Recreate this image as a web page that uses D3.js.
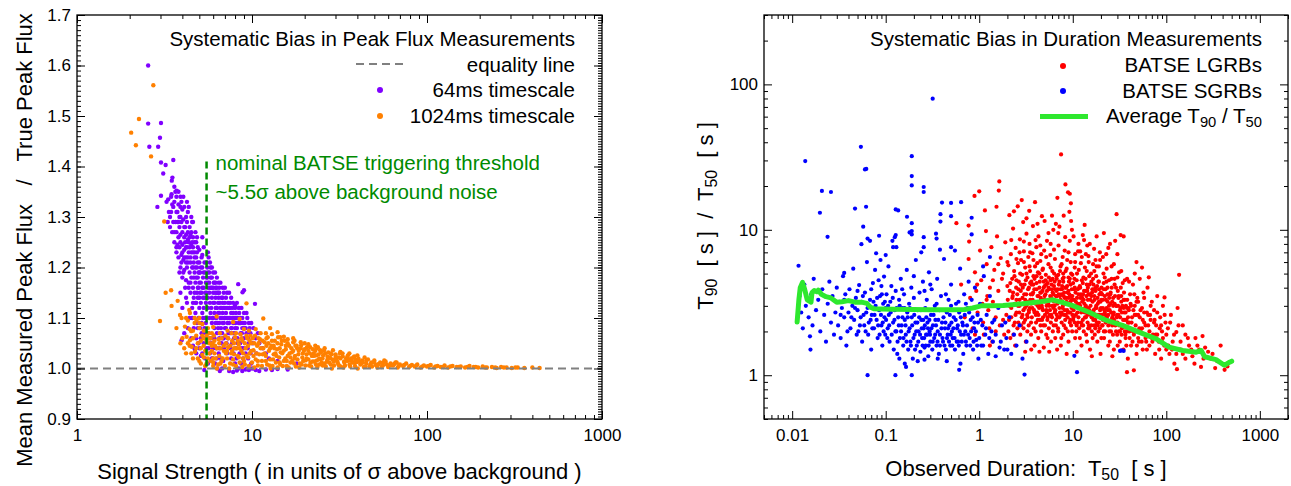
<!DOCTYPE html>
<html>
<head>
<meta charset="utf-8">
<script src="https://cdn.jsdelivr.net/npm/d3@7"></script>
<style>
body { margin: 0; background: #fff; }
svg { display: block; }
</style>
</head>
<body>
<div id="chart"></div>
<script>
'use strict';

// ---- data ----
var fluxTicksX = [1, 10, 100, 1000];
var fluxTicksY = [0.9, 1.0, 1.1, 1.2, 1.3, 1.4, 1.5, 1.6, 1.7];
var durTicksX = [0.01, 0.1, 1, 10, 100, 1000];
var durTicksY = [1, 10, 100];
var triggerThreshold = 5.5;
var equalityValue = 1.0;

// [signal strength, mean measured / true peak flux]
var flux64ms = [
	[2.55,1.60],[2.55,1.485],[3.02,1.486],[2.59,1.439],[2.91,1.439],[2.98,1.457],[3.02,1.408],[3.21,1.403],[3.11,1.386],
	[3.55,1.413],[3.51,1.378],[3.48,1.372],[3.71,1.352],[3.47,1.345],[3.02,1.342],[2.88,1.32],[3.32,1.335],[3.5,1.325],
	[3.6,1.33],[3.7,1.31],[3.8,1.325],[3.9,1.30],[3.95,1.33],[4.0,1.315],[4.1,1.32],[4.2,1.30],[4.3,1.31],[3.75,1.29],
	[3.85,1.28],[3.95,1.29],[4.05,1.295],[4.15,1.28],[4.25,1.29],[4.4,1.28],[3.7,1.27],[3.8,1.26],[3.9,1.265],[4.0,1.27],
	[4.1,1.26],[4.2,1.265],[4.3,1.255],[4.45,1.265],[3.75,1.245],[3.85,1.24],[4.0,1.245],[4.1,1.235],[4.25,1.24],[4.35,1.23],
	[4.5,1.245],[3.8,1.22],[3.95,1.225],[4.05,1.215],[4.2,1.22],[4.3,1.21],[4.45,1.22],[3.9,1.20],[4.1,1.195],[4.25,1.2],
	[4.4,1.19],[4.55,1.2],[4.0,1.18],[4.2,1.175],[4.35,1.17],[4.5,1.18],[4.6,1.23],[4.65,1.21],[4.7,1.25],[4.6,1.26],
	[4.55,1.29],[4.7,1.19],[3.9,1.15],[4.0,1.12],[4.2,1.14],[4.4,1.10],[4.1,1.07],[4.3,1.08],[4.5,1.06],[4.6,1.045],
	[4.7,1.04],[4.8,1.03],[3.96,1.056],[4.72,1.037],
	[4.75,1.17],[4.8,1.22],[4.85,1.2],[4.9,1.18],[4.95,1.16],[5.0,1.21],[5.05,1.19],[5.1,1.17],[5.15,1.15],[5.2,1.2],
	[5.25,1.18],[5.3,1.16],[5.35,1.14],[5.4,1.19],[5.45,1.17],[4.7,1.15],[4.8,1.13],[4.9,1.14],[5.0,1.12],[5.1,1.13],
	[5.2,1.11],[5.3,1.12],[5.4,1.10],[5.5,1.15],[4.75,1.11],[4.85,1.09],[4.95,1.10],[5.05,1.08],[5.15,1.09],[5.25,1.07],
	[5.35,1.08],[5.45,1.06],[5.0,1.235],[5.2,1.225],[4.9,1.24],[4.6,1.16],[4.65,1.14],[4.55,1.12],[5.1,1.06],[5.3,1.05],
	[5.5,1.04],[4.95,1.05],[5.2,1.03],[5.4,1.02],[5.34,0.997],[5.6,1.01],[5.1,1.025],
	[5.6,1.17],[5.7,1.15],[5.8,1.16],[5.9,1.14],[6.0,1.15],[6.1,1.13],[6.2,1.14],[6.3,1.12],[6.4,1.13],[6.5,1.11],
	[6.6,1.12],[6.7,1.10],[6.8,1.11],[6.9,1.09],[7.0,1.10],[5.6,1.12],[5.7,1.10],[5.8,1.11],[5.9,1.09],[6.0,1.10],
	[6.1,1.08],[6.2,1.09],[6.3,1.07],[6.4,1.08],[6.5,1.06],[6.6,1.07],[6.7,1.05],[6.8,1.06],[6.9,1.04],[5.65,1.07],
	[5.85,1.05],[6.05,1.06],[6.25,1.04],[6.45,1.03],[6.65,1.02],[6.85,1.015],[5.75,1.03],[5.95,1.02],[6.15,1.01],[6.35,1.0],
	[6.55,0.995],[6.75,1.0],[6.2,1.17],[6.5,1.16],[6.8,1.14],[7.0,1.13],[6.28,1.12],[5.55,1.18],
	[7.2,1.12],[7.4,1.10],[7.6,1.11],[7.8,1.09],[8.0,1.10],[8.2,1.08],[8.4,1.09],[8.6,1.07],[8.8,1.08],[9.0,1.06],
	[9.3,1.07],[9.6,1.05],[7.1,1.08],[7.3,1.06],[7.5,1.07],[7.7,1.05],[7.9,1.06],[8.1,1.04],[8.3,1.05],[8.5,1.03],
	[8.7,1.04],[8.9,1.02],[9.2,1.03],[9.5,1.02],[9.8,1.03],[7.2,1.03],[7.6,1.02],[8.0,1.01],[8.4,1.0],[8.8,0.995],
	[9.2,0.998],[7.4,0.995],[7.8,0.993],[8.2,0.996],[9.6,0.997],[10.0,1.0],[8.34,1.167],[8.83,1.151],[9.0,1.155],[10.4,1.128],
	[7.5,1.13],[8.0,1.125],[9.3,1.11],[9.9,1.09],[10.2,1.08],[10.5,1.06],[11,1.05],[11.5,1.04],[12,1.03],[10.8,1.07],
	[10.5,0.997],[11,0.995],[12,0.998],[13,0.997],[14,0.999],[16,0.998],[12.5,1.02],[14,1.015],[18,1.01],
	[3.65,1.29],[3.75,1.31],[3.85,1.3],[3.9,1.25],[4.0,1.23],[4.1,1.28],[4.15,1.25],[4.2,1.24],[4.3,1.27],[4.35,1.25],
	[4.4,1.24],[4.45,1.21],[4.5,1.23],[4.55,1.25],[4.6,1.2],[4.65,1.18],[4.7,1.22],[4.75,1.2],[4.8,1.25],[4.85,1.23],
	[4.9,1.21],[4.95,1.19],[5.0,1.17],[5.05,1.15],[5.1,1.2],[5.15,1.22],[5.2,1.16],[5.25,1.14],[5.3,1.19],[5.35,1.21],
	[5.4,1.15],[5.45,1.13],[5.5,1.18],[5.55,1.2],[5.6,1.14],[5.65,1.16],[5.7,1.19],[5.75,1.13],[5.8,1.18],[5.85,1.12],
	[5.9,1.16],[5.95,1.1],[6.0,1.13],[6.05,1.17],[6.1,1.11],[6.15,1.15],[6.2,1.12],[6.25,1.1],[6.3,1.15],[6.35,1.09],
	[6.4,1.11],[6.45,1.14],[6.5,1.09],[6.55,1.13],[6.6,1.1],[6.65,1.08],[6.7,1.12],[6.75,1.07],[6.8,1.09],[6.85,1.12],
	[6.9,1.06],[6.95,1.1],[7.0,1.08],[7.1,1.11],[7.15,1.05],[7.25,1.09],[7.35,1.07],[7.45,1.12],[7.55,1.04],[7.65,1.08],
	[7.75,1.1],[7.85,1.03],[7.95,1.07],[8.05,1.09],[8.15,1.02],[8.25,1.06],[8.45,1.11],[8.55,1.05],[8.65,1.01],[8.75,1.07],
	[8.95,1.04],[9.1,1.09],[9.4,1.0],[9.45,1.04],[9.7,1.08],[9.9,1.01],[10.1,1.05],[10.3,1.0],[10.6,1.03],[4.45,1.15],
	[4.55,1.1],[4.65,1.08],[4.8,1.06],[4.9,1.08],[5.0,1.04],[5.15,1.07],[5.25,1.1],[5.45,1.09],[5.55,1.07],[5.65,1.04],
	[5.8,1.06],[5.9,1.02],[6.0,1.04],[6.1,1.06],[6.3,1.02],[6.5,1.04],[4.25,1.13],[4.35,1.16],[4.15,1.16],[4.05,1.19],
	[3.95,1.21],[3.85,1.19],[3.7,1.23],[3.6,1.27],[3.55,1.29],[3.45,1.31],[3.4,1.3],[3.3,1.29],[3.65,1.35],[4.25,1.33],
	[4.35,1.32],[4.5,1.3],[4.6,1.29],[4.75,1.27],[4.85,1.26],[5.3,1.24],[5.6,1.23],[5.9,1.2],[6.3,1.18],[6.8,1.16],
	[7.4,1.15],[7.8,1.13],[5.2,1.26],
	[6.5,1.15],[6.6,1.17],[6.7,1.14],[6.8,1.13],[6.9,1.15],[7.0,1.16],[7.1,1.14],[7.2,1.15],[7.3,1.13],[7.4,1.12],
	[7.5,1.1],[7.6,1.14],[7.7,1.12],[7.8,1.11],[7.9,1.1],[8.0,1.12],[8.1,1.11],[8.2,1.13],[8.3,1.1],[8.4,1.12],
	[8.5,1.09],[8.6,1.1],[8.7,1.12],[8.8,1.1],[8.9,1.09],[9.0,1.11],[9.2,1.08],[9.4,1.1],[9.6,1.09],[9.8,1.07],
	[7.0,1.12],[7.2,1.1],[7.4,1.09],[7.6,1.08],[7.8,1.07],[8.0,1.08],[8.2,1.1],[8.6,1.09],[9.0,1.08],[9.5,1.06],
	[5.5,1.21],[5.6,1.19],[5.7,1.17],[5.8,1.2],[5.9,1.18],[6.0,1.19],[6.1,1.17],[6.2,1.16],[6.3,1.16],[6.4,1.15],
	[6.45,1.17],[6.0,1.16],[5.75,1.21],[6.15,1.19],[5.65,1.22],
	[3.25,1.33],[3.35,1.31],[3.45,1.34],[3.55,1.32],[3.6,1.36],[3.7,1.34],[3.8,1.35],[3.9,1.34],[3.4,1.28],[3.5,1.27],
	[3.6,1.25],[3.7,1.24],[3.8,1.29],[3.9,1.32],[4.05,1.34],
	[4.1,1.22],[4.2,1.21],[4.3,1.22],[4.4,1.26],[4.5,1.27],[4.6,1.24],[4.7,1.23],[4.8,1.18],[4.9,1.16],[5.0,1.19],
	[5.0,1.14],[4.85,1.15],[4.45,1.17],[4.6,1.13],[4.75,1.13]
];

var flux1024ms = [
	[2.73,1.561],[2.26,1.494],[2.04,1.467],[2.17,1.442],[2.65,1.42],[3.15,1.291],[3.21,1.15],[3.45,1.155],[3.76,1.134],
	[3.47,1.124],[2.98,1.094],[3.88,1.106],[3.96,1.10],[4.14,1.083],[4.4,1.078],[4.5,1.074],[4.38,1.116],[4.42,1.11],
	[4.23,1.063],[4.42,1.056],[4.52,1.043],[4.72,1.033],[5.2,1.027],[5.3,1.022],[4.82,1.096],[5.0,1.09],[5.2,1.088],
	[5.0,1.08],[5.6,1.08],[6.0,1.082],[6.28,1.103],[7.8,1.092],[8.5,1.098],[9.3,1.129],[11.6,1.099],[12.7,1.08],
	[14,1.072],[15.2,1.063],[17.2,1.06],[20,1.05],[23.4,1.04],[27.9,1.021],
	[4.6,1.06],[4.9,1.05],[5.1,1.04],[5.4,1.035],[5.7,1.03],[5.9,1.045],[5.5,1.055],[4.8,1.065],[5.2,1.065],[5.8,1.06],
	[4.4,1.045],[4.6,1.02],[5.0,1.015],[5.5,1.01],[6.0,1.005],[4.7,1.09],[4.3,1.095],[5.3,1.075],[5.65,1.07],[5.9,1.07],
	[4.0,1.06],[4.1,1.04],[4.2,1.03],[4.3,1.05],[4.5,1.03],[4.6,1.075],[4.8,1.04],[4.9,1.02],[5.1,1.01],[5.3,1.06],
	[5.4,1.005],[5.6,1.02],[5.7,1.06],[5.8,1.015],[3.7,1.08],[3.9,1.05],[4.2,1.1],[4.7,1.1],[5.0,1.1],
	[6.0,1.012],[6.1,1.03],[5.95,1.05],[6.05,1.065],[6.2,1.02],[6.15,1.045],
	[6.4,1.008],[6.5,1.025],[6.6,1.04],[6.45,1.058],[6.55,1.07],[6.7,1.015],
	[6.9,1.035],[7.0,1.005],[7.1,1.05],[7.2,1.02],[7.05,1.065],[7.25,1.075],[7.3,1.042],
	[7.5,1.01],[7.6,1.03],[7.7,1.055],[7.8,1.018],[7.65,1.07],[7.9,1.04],[8.0,1.062],
	[8.1,1.005],[8.3,1.025],[8.4,1.048],[8.5,1.012],[8.6,1.068],[8.7,1.035],[8.8,1.055],[8.9,1.02],
	[9.1,1.008],[9.2,1.04],[9.4,1.06],[9.5,1.022],[9.6,1.075],[9.7,1.03],[9.9,1.05],[10.0,1.012],
	[10.2,1.036],[10.4,1.065],[10.5,1.018],[10.7,1.045],[10.8,1.006],[11.0,1.028],[11.1,1.058],[11.2,1.07],
	[11.4,1.015],[11.6,1.04],[11.8,1.052],[12.0,1.025],[12.2,1.008],[12.3,1.062],[12.5,1.035],[12.7,1.018],
	[12.9,1.045],[13.1,1.005],[13.3,1.028],[13.5,1.055],[13.7,1.012],[13.9,1.038],[14.1,1.062],[14.3,1.022],
	[14.5,1.008],[14.7,1.048],[14.9,1.03],[15.2,1.015],[15.4,1.055],[15.6,1.038],[15.8,1.005],[16.0,1.025],
	[16.3,1.045],[16.6,1.012],[16.9,1.032],[17.2,1.052],[17.5,1.02],[17.8,1.004],[18.1,1.04],[18.4,1.028],
	[18.8,1.01],[19.1,1.046],[19.4,1.022],[19.8,1.035],[20.2,1.006],[20.6,1.042],[21.0,1.018],[21.4,1.03],
	[21.8,1.004],[22.3,1.038],[22.8,1.014],[23.3,1.026],[23.8,1.042],[24.3,1.008],[24.8,1.032],[25.3,1.02],
	[25.8,1.036],[26.4,1.004],[27.0,1.024],[27.6,1.012],[28.2,1.03],[28.8,1.018],[29.4,1.006],[30.0,1.028],
	[30.7,1.014],[31.4,1.022],[32.1,1.004],[32.9,1.03],[33.7,1.012],[34.5,1.02],[35.3,1.026],[36.1,1.008],
	[37.0,1.016],[37.9,1.022],[38.8,1.005],[39.7,1.013],[40.6,1.02],[41.6,1.008],[42.6,1.016],[43.6,1.003],
	[6.3,1.0],[6.8,1.02],[7.4,1.0],[7.9,1.028],[8.2,1.04],[8.8,1.003],[9.3,1.025],[9.8,1.065],[10.3,1.002],[10.9,1.05],
	[11.5,1.028],[12.1,1.045],[12.8,1.0],[13.4,1.04],[14.0,1.002],[14.6,1.032],[15.5,1.02],[16.2,1.002],[17.0,1.015],
	[17.7,1.045],[18.6,1.002],[19.6,1.015],[20.5,1.028],[21.6,1.012],[22.6,1.025],[23.6,1.002],[24.6,1.018],[26.0,1.01],
	[27.3,1.032],[28.6,1.0],[30.3,1.02],[31.8,1.03],[33.3,1.002],[35.0,1.015],[36.8,1.02],[38.4,1.012],[40.2,1.0],[42.0,1.01],
	[9.0,1.078],[10.5,1.078],[12.0,1.07],[13.0,1.068],[14.5,1.062],[16.0,1.058],[17.5,1.055],[19.0,1.052],[21.0,1.048],
	[23.0,1.045],[26.0,1.04],[29.0,1.036],[32.0,1.033],[36.0,1.03],[40.0,1.026],[44.0,1.022],
	[5.1,1.055],[5.3,1.045],[5.5,1.065],[5.7,1.05],[5.9,1.035],[6.1,1.055],[6.3,1.04],[6.5,1.05],[6.7,1.06],[6.9,1.045],
	[7.1,1.03],[7.3,1.06],[7.5,1.045],[7.7,1.035],[7.9,1.05],[8.1,1.07],[8.3,1.055],[8.5,1.04],[8.7,1.06],[8.9,1.03],
	[9.1,1.05],[9.3,1.065],[9.5,1.045],[9.7,1.055],[9.9,1.035],[10.1,1.06],[10.3,1.05],[10.6,1.03],[10.9,1.06],[11.2,1.04],
	[11.5,1.055],[11.8,1.03],[12.1,1.06],[12.4,1.05],[12.7,1.04],[13.0,1.055],[13.3,1.045],[13.6,1.03],[14.0,1.05],[14.4,1.04],
	[14.8,1.055],[15.2,1.035],[15.6,1.045],[16.0,1.05],[16.4,1.03],[16.8,1.04],[17.2,1.035],[17.6,1.025],[18.0,1.045],[18.5,1.035],
	[19.0,1.04],[19.5,1.03],[20.0,1.038],[20.5,1.02],[21.0,1.035],[21.5,1.042],[22.0,1.025],[22.5,1.03],[23.0,1.035],[23.5,1.016],
	[24.0,1.028],[24.5,1.036],[25.0,1.012],[25.5,1.026],[26.2,1.03],[27.0,1.018],[27.8,1.022],[28.5,1.028],[29.3,1.014],[30.1,1.024],
	[31.0,1.01],[32.0,1.02],[33.0,1.024],[34.0,1.006],[35.0,1.022],[36.0,1.016],[37.5,1.012],[39.0,1.018],[41.0,1.014],[43.0,1.012],
	[45.0,1.016],[47.5,1.008],[50.0,1.012],[53.0,1.009],[56.0,1.011],[59.0,1.008],[62.0,1.006],[65.0,1.009],[69.0,1.005],[74.0,1.007],
	[80.0,1.005],[87.0,1.006],[94.0,1.004],[102,1.005],[112,1.004],[124,1.003],[136,1.004],[152,1.003],[170,1.003],[190,1.003],
	[215,1.002],[245,1.002],[275,1.002],[320,1.002],[6.0,1.02],[6.6,1.01],[7.2,1.035],[7.8,1.008],[8.4,1.022],[9.0,1.015],
	[9.6,1.005],[10.2,1.025],[10.8,1.015],[11.4,1.005],[12.0,1.015],[12.6,1.006],[13.2,1.018],[13.8,1.025],[14.4,1.012],[15.0,1.005],
	[15.8,1.015],[16.6,1.022],[17.4,1.01],[18.2,1.018],[19.2,1.008],[20.2,1.016],[21.2,1.006],[22.2,1.014],[23.2,1.008],[24.2,1.02],
	[25.4,1.006],[26.8,1.014],[28.2,1.008],[29.8,1.018],[31.4,1.006],[33.6,1.014],[36.4,1.004],[38.4,1.024],[44.5,1.004],[48.5,1.004],
	[55,1.003],[57,1.016],[67,1.012],
	[45,1.01],[46,1.018],[47,1.004],[48,1.012],[50,1.016],[51,1.007],[52,1.002],[54,1.012],[56,1.006],[58,1.014],
	[60,1.003],[62,1.01],[64,1.006],[66,1.012],[68,1.002],[70,1.008],[73,1.005],[76,1.01],[79,1.003],[82,1.007],
	[85,1.004],[88,1.008],[92,1.002],[96,1.006],[100,1.004],[105,1.007],[110,1.002],[115,1.005],[120,1.003],[126,1.006],
	[132,1.002],[140,1.005],[148,1.003],[156,1.004],[165,1.002],[175,1.005],[185,1.003],[196,1.002],[208,1.004],[220,1.002],
	[235,1.003],[250,1.001],[265,1.003],[285,1.002],[305,1.001],[330,1.002],[360,1.001],[400,1.002],[440,1.001]
];

// [observed T50 (s), T90 / T50]
var lgrbs = [
	[0.57,11.1],[0.64,4.2],[0.7,2.5],[0.77,10.7],[0.77,6.3],[0.78,8.3],[0.8,3.4],[0.85,2.1],[0.89,17.1],[0.9,5.1],
	[0.93,3.8],[0.96,2.7],[1.0,18.4],[1.02,7.2],[1.05,4.5],[1.08,3.1],[1.1,2.3],[1.12,1.9],[1.15,13.6],[1.18,9.8],
	[1.2,5.8],[1.22,3.5],[1.25,2.8],[1.28,2.1],[1.3,4.0],[1.35,7.6],[1.38,1.7],[1.4,3.2],[1.45,5.3],[1.5,2.5],
	[1.53,14.4],[1.55,9.0],[1.6,3.8],[1.62,18.6],[1.64,21.5],[1.66,2.2],[1.7,6.4],[1.75,4.6],[1.8,3.0],[1.85,1.9],
	[1.9,8.2],[1.95,2.6],
	[2.0,4.1],[2.02,3.3],[2.05,5.7],[2.08,2.4],[2.1,12.6],[2.12,3.8],[2.15,1.8],[2.18,6.8],[2.2,2.9],[2.25,4.6],
	[2.28,3.5],[2.3,10.2],[2.33,2.2],[2.36,5.2],[2.4,3.1],[2.42,1.6],[2.45,7.5],[2.48,4.0],[2.5,2.7],[2.55,3.6],
	[2.58,14.5],[2.6,5.9],[2.62,2.3],[2.65,4.4],[2.7,3.0],[2.72,8.6],[2.75,1.9],[2.78,3.8],[2.8,6.2],[2.85,2.5],
	[2.88,4.9],[2.9,3.4],[2.95,11.3],[2.98,2.1],[3.0,7.1],[3.05,4.2],[3.08,2.9],[3.1,5.5],[3.15,1.7],[3.18,3.6],
	[3.2,9.4],[2.35,13.4],[2.85,16],[3.1,1.45],
	[3.25,2.6],[3.28,4.7],[3.3,3.2],[3.35,6.5],[3.38,2.2],[3.4,4.0],[3.45,8.0],[3.48,2.9],[3.5,5.2],[3.55,3.6],
	[3.58,1.9],[3.6,4.4],[3.65,2.5],[3.7,6.9],[3.72,3.3],[3.75,10.6],[3.8,4.8],[3.85,2.8],[3.88,3.9],[3.9,1.6],
	[3.95,5.6],[4.0,3.1],[4.05,2.3],[4.08,7.6],[4.1,4.3],[4.15,2.7],[4.2,3.5],[4.25,5.1],[4.28,1.8],[4.3,9.0],
	[4.35,3.0],[4.4,4.0],[4.45,2.4],[4.5,6.1],[4.55,3.4],[4.6,2.0],[4.62,4.7],[4.68,12.4],[4.7,2.9],[4.75,3.8],
	[4.8,5.4],[4.85,2.2],[4.9,3.3],[4.95,7.2],[5.0,4.1],[3.42,13.5],[3.95,15.5],[4.4,1.45],[3.6,1.5],[4.9,1.55],
	[3.2,12.0],[4.2,11.0],
	[5.05,2.6],[5.1,3.6],[5.15,4.9],[5.2,1.9],[5.25,3.0],[5.3,8.4],[5.35,2.4],[5.4,4.3],[5.45,3.3],[5.5,5.8],
	[5.55,2.1],[5.6,3.9],[5.7,2.8],[5.75,6.7],[5.8,4.5],[5.85,1.7],[5.9,3.4],[6.0,2.5],[6.05,5.2],[6.1,3.7],
	[6.2,10.0],[6.25,2.2],[6.3,4.1],[6.4,3.0],[6.45,6.3],[6.5,1.8],[6.6,3.5],[6.7,4.8],[6.75,2.6],[6.85,16.6],
	[6.9,3.9],[7.0,2.0],[7.05,7.8],[7.1,3.2],[7.2,4.4],[7.3,2.7],[7.4,5.6],[7.45,1.6],[7.5,33],[7.55,3.6],
	[7.6,2.3],[7.7,4.1],[7.8,6.5],[7.85,3.0],[7.9,1.9],[8.0,4.7],[8.1,2.6],[8.2,3.4],[8.3,8.9],[8.35,20.5],
	[8.4,2.1],[8.5,4.0],[8.6,5.4],[8.7,2.8],[8.8,3.7],[8.9,18.1],[9.0,1.7],[9.1,4.4],[9.2,13.3],[9.25,3.1],
	[9.3,17.7],[9.4,2.4],[9.5,6.0],[9.55,15.2],[9.6,11.5],[9.7,3.5],[9.8,10.0],[9.85,2.0],[9.9,4.9],[10.0,3.0],
	[5.6,1.45],[6.8,1.5],[8.6,1.4],[5.0,11.5],[6.0,12.5],[7.0,9.5],
	[10.2,2.5],[10.4,3.9],[10.5,5.5],[10.6,1.8],[10.8,3.2],[11.0,4.5],[11.2,2.7],[11.4,7.1],[11.5,3.6],[11.7,2.1],
	[11.9,4.1],[12.0,3.0],[12.2,5.9],[12.4,1.6],[12.6,3.4],[12.8,2.4],[13.0,4.7],[13.2,8.5],[13.4,10.8],[13.5,2.9],
	[13.7,3.8],[13.9,1.9],[14.1,5.2],[14.3,2.6],[14.5,3.3],[14.7,6.6],[14.9,2.2],[15.1,4.2],[15.3,1.5],[15.5,3.0],
	[15.7,5.0],[15.9,2.5],[16.1,3.7],[16.3,1.8],[16.5,4.6],[16.7,2.8],[16.9,7.4],[17.1,3.3],[17.4,2.1],[17.6,4.0],
	[17.8,2.6],[18.0,5.6],[18.3,1.7],[18.5,3.1],[18.8,4.4],[19.0,2.3],[19.3,3.6],[19.6,6.2],[19.8,1.4],[20.0,2.9],
	[11.0,1.45],[12.8,9.2],[15.2,8.0],[18.0,9.0],[10.6,6.8],[16.0,1.35],
	[20.3,4.0],[20.6,2.2],[21.0,3.3],[21.3,5.0],[21.6,1.8],[22.0,2.7],[22.4,3.9],[22.8,6.8],[23.2,2.4],[23.6,3.2],
	[24.0,1.6],[24.4,4.5],[24.8,2.8],[25.2,3.6],[25.6,2.0],[26.0,5.6],[26.5,2.5],[27.0,3.4],[27.5,1.5],[28.0,4.2],
	[28.4,8.4],[28.7,2.3],[29.2,3.0],[29.4,12.8],[29.8,1.9],[30.3,3.8],[30.8,2.6],[31.3,5.1],[31.8,1.7],[32.4,2.9],
	[32.5,9.2],[33.0,3.5],[33.6,2.1],[34.2,4.3],[34.8,1.5],[35.0,9.0],[35.4,2.7],[36.0,3.3],[36.7,1.8],[37.4,2.4],
	[38.1,4.6],[38.8,1.3],[39.5,2.9],[40.2,2.0],[24.0,7.5],[26.5,1.35],[21.5,9.5],[30,6.8],[38,1.05],[45,1.08],
	[41,3.6],[42,1.6],[43,2.5],[44,4.2],[45,1.9],[46,3.0],[47,2.2],[48,1.4],[49,3.4],[50,2.6],
	[51,1.7],[52,4.6],[53,2.0],[55,2.9],[56,1.5],[57,3.7],[58,2.3],[60,1.8],[62,2.7],[63,4.0],
	[65,4.71],[66,1.6],[68,2.4],[70,3.2],[72,1.9],[74,2.8],[76,1.4],[78,2.2],[80,3.5],[83,1.7],
	[86,2.5],[88,1.3],[90,2.0],[92,3.0],[95,1.6],[95.7,3.43],[98,2.3],[100,1.5],[55,5.5],[48,6.0],
	[104,2.1],[108,1.4],[112,2.6],[117,1.7],[122,1.2],[128,1.98],[132,2.9],[137,4.9],[142,1.5],[150,2.2],
	[160,1.3],[170,1.8],[185,1.5],[200,1.2],[215,1.6],[235,1.14],[244,1.86],[250,1.3],[280,1.45],[312,1.4],
	[333,1.12],[381,1.6],[420,1.09],[450,1.15],[130,1.1],
	[2.05,2.0],[2.1,3.0],[2.15,4.3],[2.2,2.5],[2.26,3.4],[2.32,1.9],[2.38,4.8],[2.44,2.6],[2.5,3.3],[2.56,2.1],
	[2.63,3.9],[2.68,2.7],[2.74,5.0],[2.8,2.2],[2.86,3.1],[2.92,4.0],[2.97,2.8],[3.03,3.6],[3.09,2.4],[3.15,4.5],
	[3.21,3.0],[3.27,2.0],[3.33,3.9],[3.39,2.7],[3.45,5.6],[3.52,3.3],[3.58,2.3],[3.64,4.2],[3.7,2.9],[3.77,3.7],
	[3.83,2.1],[3.9,4.6],[3.96,3.2],[4.03,2.6],[4.1,3.9],[4.17,5.9],[4.23,2.4],[4.3,3.5],[4.37,2.9],[4.44,4.4],
	[4.52,2.2],[4.59,3.7],[4.66,3.0],[4.74,5.3],[4.81,2.5],[4.89,4.0],[4.97,3.3],[5.05,2.2],[5.13,4.5],[5.21,2.8],
	[5.3,3.8],[5.38,1.8],[5.47,3.1],[5.56,4.7],[5.65,2.6],[5.74,3.5],[5.83,2.3],[5.93,4.2],[6.02,3.0],[6.12,2.0],
	[6.22,3.6],[6.32,5.0],[6.42,2.7],[6.52,3.9],[6.63,2.4],[6.74,4.6],[6.85,3.1],[6.96,2.1],[7.07,3.6],[7.18,2.5],
	[7.3,5.2],[7.42,3.3],[7.54,1.8],[7.66,3.9],[7.78,2.9],[7.91,4.4],[8.04,2.2],[8.17,3.1],[8.3,4.0],[8.44,2.6],
	[8.58,3.4],[8.72,6.2],[8.86,2.0],[9.0,3.8],[9.15,2.7],[9.3,4.6],[9.45,3.2],[9.6,2.2],[9.76,3.9],[9.92,2.6],
	[10.1,4.3],[10.3,3.3],[10.5,2.3],[10.7,3.7],[10.9,2.0],[11.1,5.0],[11.3,3.1],[11.5,2.5],[11.7,4.0],[11.9,1.8],
	[12.1,3.4],[12.3,2.3],[12.5,4.5],[12.7,2.8],[12.9,3.6],[13.1,2.0],[13.3,3.1],[13.5,5.5],[13.8,2.5],[14.0,3.5],
	[14.2,1.7],[14.5,4.0],[14.7,2.9],[15.0,2.1],[15.2,3.6],[15.5,2.6],[15.8,4.4],[16.0,2.0],[16.3,3.2],[16.6,2.4],
	[16.9,3.9],[17.2,1.9],[17.5,2.9],[17.8,4.8],[18.1,2.3],[18.4,3.4],[18.8,2.0],[19.1,3.9],[19.4,2.6],[19.8,3.2],
	[20.2,1.8],[20.6,3.6],[21.0,2.4],[21.4,4.3],[21.8,2.8],[22.2,2.0],[22.6,3.3],[23.1,2.5],[23.5,4.0],[24.0,2.2],
	[24.4,3.0],[24.9,1.7],[25.4,3.7],[25.9,2.4],[26.4,3.2],[26.9,1.9],[27.4,2.7],[28.0,4.6],[28.5,2.2],[29.1,3.0],
	[29.6,2.5],[30.2,1.6],[30.8,3.4],[31.4,2.2],[32.0,2.8],[32.6,4.0],[33.3,1.9],[33.9,3.0],[34.6,2.4],[35.3,3.7],
	[36.0,2.0],[36.7,2.7],[37.4,1.6],[38.2,3.3],[38.9,2.3],[39.7,2.8],[40.5,1.8],[41.5,3.1],[42.5,2.3],[43.5,1.7],
	[44.5,2.8],[45.5,3.6],[46.5,2.0],[47.5,2.6],[48.5,1.6],[50.0,3.2],[51.5,2.1],[53.0,2.8],[54.5,1.7],[56.0,2.4],
	[58.0,3.4],[60.0,2.2],[62.0,1.5],[64.0,2.6],[66.0,2.0],[68.0,3.0],[71.0,1.7],[74.0,2.3],[77.0,1.9],[80.0,2.7],
	[84.0,1.5],[88.0,2.2],[92.0,1.8],[96.0,2.6],[100,1.9],[105,1.6],[110,2.3],[115,1.5],[121,1.9],[128,1.4],
	[135,2.2],[142,1.7],[150,1.4],[160,1.9],[175,1.6],[190,1.35],[205,1.8],[225,1.5],[260,1.55],[300,1.3],
	[350,1.25],[3.5,7.0],[4.6,6.8],[5.2,6.5],[6.3,7.3],[7.6,5.8],[9.0,7.0],[10.6,6.0],[12.5,6.5],[14.3,7.8],
	[16.5,5.8],[19.5,7.0],[23.0,5.4],[27.5,5.8],[33.0,5.2],[40.0,4.4],[46.0,5.0],[2.2,8.5],[2.7,7.0],[3.0,6.0],
	[4.0,8.5],[5.5,9.5],[7.2,10.5],[8.0,12.5],[11.5,8.0],[13.8,6.8],[17.5,6.2],[21.0,6.5],[25.0,8.0],
	[3.1,3.3],[3.3,2.5],[3.5,4.3],[3.7,3.6],[3.9,2.7],[4.1,4.8],[4.3,2.6],[4.5,3.7],[4.7,2.4],[4.9,4.4],
	[5.1,3.2],[5.3,2.7],[5.5,4.0],[5.7,3.3],[5.9,2.6],[6.1,4.6],[6.3,3.2],[6.5,2.8],[6.7,3.8],[6.9,2.5],
	[7.1,4.2],[7.3,3.5],[7.5,2.6],[7.7,3.2],[7.9,5.0],[8.1,3.7],[8.3,2.4],[8.5,3.1],[8.7,4.1],[8.9,2.7],
	[9.1,3.4],[9.3,2.3],[9.5,4.2],[9.7,2.9],[9.9,3.5],[10.2,2.8],[10.5,4.0],[10.8,2.6],[11.1,3.4],[11.4,2.3],
	[11.7,3.1],[12.0,4.0],[12.3,2.7],[12.6,3.2],[12.9,2.2],[13.2,3.8],[13.5,2.5],[13.8,3.0],[14.1,4.2],[14.4,2.3],
	[14.7,3.6],[15.0,2.8],[15.4,3.3],[15.8,2.2],[16.2,3.9],[16.6,2.7],[17.0,3.5],[17.4,2.4],[17.8,3.0],[18.2,4.1],
	[18.6,2.6],[19.0,3.2],[19.5,2.1],[20.0,3.7],[20.5,2.6],[21.0,2.9],[21.5,2.0],[22.0,3.5],[22.5,2.3],[23.0,2.9],
	[23.5,3.6],[24.0,2.6],[24.6,2.0],[25.2,3.1],[25.8,2.7],[26.4,2.2],[27.0,3.0],[27.6,2.4],[28.3,3.5],[29.0,2.0],
	[29.7,2.6],[30.5,3.0],[31.3,2.0],[32.1,2.5],[33.0,3.2],[34.0,2.2],[35.0,2.9],[36.0,2.4],[37.0,3.0],[38.0,2.0],
	[39.0,2.5],[2.3,3.7],[2.5,4.5],[2.7,3.3],[2.9,2.6],[2.4,2.3],[2.6,3.0],[2.8,4.2],[3.0,2.3],[3.2,5.0],
	[3.4,2.8],[3.6,3.1],[3.8,4.2],[4.0,2.0],[4.2,3.0],[4.4,5.0],[4.6,3.3],[4.8,2.8],[5.0,3.5],[5.2,4.2],
	[5.4,2.5],[5.6,3.0],[5.8,5.5],[6.0,3.9],[6.2,2.9],[6.4,4.4],[6.6,2.2],[6.8,3.5],[7.0,4.9],[7.2,2.9],
	[7.4,3.9],[7.6,2.7],[7.8,4.6],[8.0,3.5],[8.2,2.8],[8.4,5.2],[8.6,3.2],[8.8,2.5],[9.0,4.7],[9.2,3.6],
	[9.4,2.7],[9.6,5.0],[9.8,3.3],[10.1,2.4],[10.4,4.6],[10.7,3.0],[11.0,2.2],[11.3,3.9],[11.6,5.3],[11.9,2.9],
	[12.2,3.6],[12.5,2.2],[12.8,4.3],[13.1,3.3],[13.4,2.7],[13.7,4.6],[14.0,2.9],[14.3,3.8],[14.6,2.1],[15.0,4.8],
	[15.4,2.7],[15.8,3.5],[16.2,2.5],[16.6,4.2],[17.0,2.2],[17.5,3.8],[18.0,2.9],[18.5,2.2],[19.0,4.4],[19.6,2.8],
	[20.2,3.3],[20.8,2.2],[21.5,3.9],[22.2,2.6],[22.9,4.4],[23.7,2.8],[24.5,3.4],[25.3,2.3],[26.1,4.0],[27.0,2.6],
	[28.0,3.1],[29.0,4.0],[30.0,2.3],[31.0,3.5],[32.0,2.0],[33.5,2.7],[35.0,3.3],[36.5,1.9],[38.0,2.9],[40.0,2.3],
	[42.0,3.0],[44.0,2.0],[46.0,2.6],[48.0,3.2],[50.0,1.8],[52.0,2.5],[55.0,2.1],[58.0,2.7],[61.0,1.7],[64.0,2.2],
	[67.0,2.6],[70.0,1.8],[75.0,2.4],[80.0,1.9],[85.0,2.1],[90.0,1.7],[3.0,8.3],[3.8,6.2],[4.5,7.8],[5.8,8.0],
	[6.6,11.0],[8.2,7.2],[9.3,8.4],[10.2,9.0],[12.0,7.1],[14.8,6.0],[17.0,5.2],[19.0,5.6],[22.0,4.7],[26.0,4.6],
	[30.0,4.7],[36.0,4.5],[2.5,6.3],[2.0,6.0],[1.8,5.0],[1.6,5.8],[1.4,4.5],[1.2,3.3],[1.5,2.0],[1.8,2.4],
	[1.3,1.6],[0.9,1.9],[0.95,4.2]
];

var sgrbs = [
	[0.0117,5.66],[0.0138,29.7],[0.0208,18.5],[0.026,18.2],[0.0198,13.1],[0.0239,8.95],[0.0543,37.2],[0.06,26],[0.062,26.2],
	[0.0617,14.4],[0.047,14],[0.0575,10.5],[0.064,8.7],[0.068,8.4],[0.055,7.96],[0.085,9.1],[0.128,13.8],[0.136,13.6],
	[0.125,8.9],[0.128,9.2],[0.13,7.6],[0.169,12.3],[0.19,32.1],[0.19,23.4],[0.19,20.2],[0.19,11.1],[0.19,9.8],[0.18,9.6],
	[0.19,9.3],[0.255,19.7],[0.255,18.2],[0.255,8.9],[0.255,7.6],[0.318,79.8],[0.345,9.4],[0.35,8.7],[0.385,12.8],
	[0.385,11.4],[0.4,15.4],[0.5,12.4],[0.5,15.3],[0.5,7.6],[0.64,15.5],[0.83,12.1],[0.83,9.3],[0.38,7.3],[0.036,5.05],
	[0.0157,1.5],[0.064,1.0],[0.127,1.0],[0.19,1.0],[0.165,1.14],[0.61,1.09],[3.05,1.01],[11.1,1.05],[10.4,1.36],
	[32,1.47],[35,1.47],[33,1.48],
	[0.012,3.5],[0.0125,2.7],[0.013,2.1],[0.0135,4.2],[0.014,3.0],[0.015,2.5],[0.0155,1.85],[0.016,3.6],[0.0165,2.2],
	[0.017,4.6],[0.018,2.8],[0.019,3.3],[0.02,2.0],[0.021,3.9],[0.022,2.6],[0.023,1.7],[0.024,3.1],[0.025,4.4],
	[0.026,2.3],[0.027,3.5],[0.028,1.9],[0.029,2.7],[0.03,4.0],
	[0.031,2.2],[0.032,3.2],[0.033,1.8],[0.034,2.9],[0.035,4.8],[0.036,2.5],[0.037,3.6],[0.038,1.6],[0.04,2.7],
	[0.041,3.9],[0.042,2.1],[0.044,3.0],[0.045,5.4],[0.046,2.4],[0.048,3.4],[0.049,1.9],[0.05,2.8],[0.052,4.17],
	[0.053,2.2],[0.055,3.2],[0.056,1.7],[0.058,2.6],[0.06,3.7],[0.061,2.0],[0.063,6.0],[0.064,2.9],[0.066,2.3],
	[0.068,3.3],[0.07,1.5],[0.071,2.6],[0.073,4.3],[0.075,2.1],[0.077,5.3],[0.078,3.0],[0.079,6.9],[0.08,2.4],
	[0.082,1.8],[0.084,4.5],[0.085,2.8],[0.087,3.5],[0.088,6.2],[0.09,2.2],[0.092,1.6],[0.094,3.1],[0.096,4.77],
	[0.097,2.5],[0.099,1.9],[0.1,6.7],[0.1,2.9],[0.107,5.6],
	[0.102,3.6],[0.105,2.1],[0.108,2.6],[0.11,1.7],[0.112,3.2],[0.115,4.1],[0.118,8.4],[0.12,7.6],[0.12,2.3],
	[0.122,1.5],[0.125,2.8],[0.128,3.8],[0.13,2.0],[0.133,1.4],[0.136,2.5],[0.139,3.3],[0.142,1.8],[0.145,4.6],
	[0.148,2.2],[0.15,2.9],[0.154,1.6],[0.157,3.6],[0.16,2.4],[0.164,1.9],[0.168,5.3],[0.17,2.7],[0.174,1.5],
	[0.178,3.1],[0.18,2.1],[0.184,1.7],[0.188,4.0],[0.19,2.5],[0.195,1.3],[0.2,3.4],[0.204,1.9],[0.208,2.3],
	[0.21,6.2],[0.215,1.6],[0.22,2.8],[0.225,2.0],[0.23,3.7],[0.235,1.45],[0.24,2.4],[0.245,1.8],[0.25,4.4],
	[0.255,2.1],[0.26,1.55],[0.265,2.9],[0.27,1.9],[0.275,3.3],[0.28,2.3],[0.285,1.35],[0.29,5.1],[0.295,2.0],
	[0.3,1.7],[0.22,1.25],[0.16,1.2],[0.26,1.28],[0.14,1.3],[0.24,7.0],
	[0.305,2.6],[0.31,3.9],[0.315,1.5],[0.32,2.2],[0.33,1.8],[0.335,3.0],[0.34,2.4],[0.35,1.6],[0.355,4.6],
	[0.36,2.0],[0.37,1.4],[0.375,2.8],[0.38,1.9],[0.39,3.5],[0.4,2.3],[0.41,1.7],[0.42,6.3],[0.43,2.1],
	[0.44,1.5],[0.45,2.7],[0.46,1.9],[0.47,3.3],[0.48,2.2],[0.49,1.6],[0.5,4.2],[0.51,2.0],[0.52,1.8],
	[0.535,2.5],[0.55,1.5],[0.565,3.1],[0.58,2.1],[0.595,1.7],[0.61,2.7],[0.625,5.4],[0.64,1.9],[0.66,2.3],
	[0.675,1.4],[0.69,3.6],[0.71,2.0],[0.73,1.6],[0.75,2.9],[0.77,4.4],[0.79,1.8],[0.81,2.4],[0.83,3.3],
	[0.86,1.5],[0.88,2.1],[0.9,4.0],[0.93,1.75],[0.96,2.6],[0.98,1.3],[0.45,1.25],[0.63,1.2],[0.36,1.3],[0.55,7.2],
	[1.02,3.1],[1.05,1.6],[1.08,2.2],[1.12,4.8],[1.16,1.9],[1.2,2.6],[1.25,1.4],[1.3,3.5],[1.35,2.0],
	[1.4,1.7],[1.45,2.4],[1.5,1.35],[1.6,2.9],[1.65,1.55],[1.75,2.2],[1.85,1.5],[1.95,1.8],[2.1,2.5],
	[2.2,1.4],[2.35,1.9],[2.5,1.6],[2.7,2.2],[2.9,1.3],[3.2,1.7],[1.1,5.6],[1.3,6.5],
	[0.033,2.6],[0.036,3.3],[0.039,2.0],[0.043,2.5],[0.047,2.9],[0.051,2.0],[0.054,2.5],[0.057,3.5],[0.059,2.2],
	[0.062,2.7],[0.065,1.9],[0.067,3.0],[0.069,2.4],[0.072,2.1],[0.074,3.2],[0.076,2.6],[0.081,3.4],[0.083,2.2],
	[0.086,1.9],[0.089,2.6],[0.091,3.6],[0.093,2.3],[0.095,2.0],[0.098,3.2],[0.101,2.4],[0.104,1.8],[0.106,3.0],
	[0.109,2.2],[0.113,2.7],[0.116,1.9],[0.119,3.4],[0.124,2.4],[0.127,2.0],[0.131,2.9],[0.134,1.7],[0.138,2.2],
	[0.141,3.0],[0.146,2.0],[0.151,2.5],[0.155,1.8],[0.159,2.9],[0.163,2.2],[0.167,1.7],[0.172,2.5],[0.176,2.0],
	[0.181,2.9],[0.186,1.6],[0.192,2.2],[0.198,1.8],[0.202,2.6],[0.206,1.5],[0.212,2.0],[0.218,2.3],[0.223,1.7],
	[0.228,2.5],[0.233,1.9],[0.238,2.8],[0.243,2.1],[0.248,1.6],[0.252,2.4],[0.258,1.8],[0.262,2.2],[0.268,1.6],
	[0.272,2.5],[0.278,1.9],[0.283,2.1],[0.288,1.6],[0.293,2.4],[0.298,1.9],[0.308,2.1],[0.318,1.7],[0.325,2.6],
	[0.338,1.9],[0.345,2.2],[0.358,1.7],[0.365,2.4],[0.38,1.6],[0.395,2.1],[0.405,1.8],[0.415,2.5],[0.425,1.6],
	[0.435,2.3],[0.452,1.8],[0.465,2.1],[0.475,1.7],[0.485,2.6],[0.495,1.9],[0.505,2.3],[0.515,1.6],[0.53,2.1],
	[0.545,1.8],[0.56,2.4],[0.575,1.7],[0.59,2.2],[0.605,1.6],[0.62,2.0],[0.635,2.5],[0.65,1.7],[0.67,2.2],
	[0.685,1.9],[0.7,2.6],[0.72,1.7],[0.74,2.2],[0.76,1.9],[0.78,2.7],[0.8,1.6],[0.82,2.0],[0.85,2.5],
	[0.87,1.7],[0.89,2.3],[0.92,2.0],[0.95,1.6],[0.97,2.3],[1.0,1.8],[1.04,2.4],[1.1,1.6],[1.18,2.1],
	[1.28,1.8],[1.38,2.3],[1.5,1.9],[1.7,1.7],[1.9,2.3],[2.0,1.5],[0.35,3.1],[0.44,3.6],[0.6,3.2],
	[0.26,3.8],[0.15,3.9],[0.09,4.1],[0.05,3.8],[0.07,3.9],[0.2,4.8],[0.3,4.2],[0.72,3.1],[0.5,3.0]
];

// running average of T90 / T50
var avgRatio = [
	[0.0113,2.32],[0.0118,3.3],[0.0122,4.0],[0.0129,4.35],[0.0136,3.9],[0.0145,3.3],[0.0159,3.18],[0.0163,3.7],
	[0.0172,3.82],[0.0183,3.75],[0.019,3.85],[0.0205,3.6],[0.023,3.47],[0.026,3.4],[0.03,3.18],[0.034,3.2],
	[0.04,3.26],[0.047,3.18],[0.055,3.18],[0.063,3.12],[0.068,2.95],[0.075,2.86],[0.09,2.85],[0.12,2.84],
	[0.2,2.83],[0.3,2.82],[0.5,2.82],[0.7,2.83],[0.85,2.9],[1.07,3.01],[1.28,3.01],[1.8,3.02],[2.9,3.1],
	[4.5,3.2],[6.1,3.3],[8,3.15],[10,3.01],[15,2.71],[23,2.38],[34,2.2],[51,1.98],[78,1.78],[107,1.56],
	[150,1.48],[209,1.44],[236,1.48],[257,1.34],[340,1.28],[417,1.17],[475,1.23],[500,1.25]
];

// ---- drawing ----
var FONT = "'Liberation Sans', Arial, Helvetica, sans-serif";
var width = 1291, height = 486;
var LEGEND_SIZE = 20.5, LABEL_SIZE = 22, TICK_SIZE = 17;

var svg = d3.select('#chart').append('svg')
	.attr('width', width)
	.attr('height', height)
	.attr('font-family', FONT);

function drawFrame(box, x, y, opts) {
	var g = svg.append('g');

	function axis(fn, scale, values, size, fmt, pad, transform) {
		var a = g.append('g')
			.attr('transform', transform)
			.call(fn(scale).tickValues(values).tickSize(size).tickPadding(pad).tickFormat(fmt));
		a.select('.domain').remove();
		a.attr('font-family', FONT).attr('font-size', TICK_SIZE);
		a.selectAll('line').attr('stroke', '#000').attr('stroke-width', 1);
		a.selectAll('text').attr('fill', '#000');
		return a;
	}
	var none = function() { return ''; };

	// bottom / top
	axis(d3.axisBottom, x, opts.xMajor, -8, opts.xFmt, 10, 'translate(0,' + box.bottom + ')');
	axis(d3.axisBottom, x, opts.xMinor, -4, none, 10, 'translate(0,' + box.bottom + ')');
	axis(d3.axisTop, x, opts.xMajor, -8, none, 3, 'translate(0,' + box.top + ')');
	axis(d3.axisTop, x, opts.xMinor, -4, none, 3, 'translate(0,' + box.top + ')');
	// left / right
	axis(d3.axisLeft, y, opts.yMajor, -8, opts.yFmt, 6, 'translate(' + box.left + ',0)');
	axis(d3.axisLeft, y, opts.yMinor, -4, none, 6, 'translate(' + box.left + ',0)');
	axis(d3.axisRight, y, opts.yMajor, -8, none, 3, 'translate(' + box.right + ',0)');
	axis(d3.axisRight, y, opts.yMinorRight || opts.yMinor, -4, none, 3, 'translate(' + box.right + ',0)');

	g.append('rect')
		.attr('x', box.left).attr('y', box.top)
		.attr('width', box.right - box.left).attr('height', box.bottom - box.top)
		.attr('fill', 'none').attr('stroke', '#000').attr('stroke-width', 1.3);
}

function scatter(data, x, y, color, r) {
	svg.append('g').selectAll('circle')
		.data(data)
		.enter().append('circle')
		.attr('cx', function(d) { return x(d[0]); })
		.attr('cy', function(d) { return y(d[1]); })
		.attr('r', r)
		.attr('fill', color);
}

function rightText(xPos, yPos, str, size, color) {
	return svg.append('text')
		.attr('x', xPos).attr('y', yPos)
		.attr('text-anchor', 'end')
		.attr('font-size', size)
		.attr('fill', color || '#000')
		.text(str);
}

// subscript helper: parts = [[text, isSub], ...]
function richText(sel, parts, size) {
	parts.forEach(function(p) {
		var t = sel.append('tspan').text(p[0]);
		if (p[1]) t.attr('font-size', size * 0.72).attr('baseline-shift', '-28%');
	});
	return sel;
}

var PURPLE = '#8000ff', ORANGE = '#ff8000', RED = '#ff0000', BLUE = '#0000ff';
var LIME = '#2ee82e', DKGREEN = '#008a00', GRAY = '#808080';

// ===== left panel: peak flux bias =====
var boxL = { left: 77, right: 602, top: 15, bottom: 419 };
var xL = d3.scaleLog().domain([1, 1000]).range([boxL.left, boxL.right]);
var yL = d3.scaleLinear().domain([0.9, 1.7]).range([boxL.bottom, boxL.top]);

scatter(flux64ms, xL, yL, PURPLE, 2.2);
scatter(flux1024ms, xL, yL, ORANGE, 2.2);

svg.append('line')
	.attr('x1', xL(1)).attr('x2', xL(1000))
	.attr('y1', yL(equalityValue)).attr('y2', yL(equalityValue))
	.attr('stroke', GRAY).attr('stroke-width', 2).attr('stroke-dasharray', '8,5');

svg.append('line')
	.attr('x1', xL(triggerThreshold)).attr('x2', xL(triggerThreshold))
	.attr('y1', yL(1.41)).attr('y2', yL(0.9))
	.attr('stroke', DKGREEN).attr('stroke-width', 2.5).attr('stroke-dasharray', '7,4');

drawFrame(boxL, xL, yL, {
	xMajor: fluxTicksX,
	xMinor: xL.ticks().filter(function(v) { return fluxTicksX.indexOf(v) < 0; }),
	xFmt: d3.format('d'),
	yMajor: fluxTicksY,
	yMinor: yL.ticks(80),
	yMinorRight: yL.ticks(160),
	yFmt: d3.format('.1f')
});

svg.append('text')
	.attr('x', xL(triggerThreshold) + 9).attr('y', 170)
	.attr('font-size', LEGEND_SIZE).attr('fill', DKGREEN)
	.text('nominal BATSE triggering threshold');
svg.append('text')
	.attr('x', xL(triggerThreshold) + 9).attr('y', 199)
	.attr('font-size', LEGEND_SIZE).attr('fill', DKGREEN)
	.text('~5.5\u03c3 above background noise');

rightText(575, 46, 'Systematic Bias in Peak Flux Measurements', LEGEND_SIZE);
rightText(575, 72, 'equality line', LEGEND_SIZE);
rightText(575, 97, '64ms timescale', LEGEND_SIZE);
rightText(575, 123, '1024ms timescale', LEGEND_SIZE);
svg.append('line').attr('x1', 356).attr('x2', 405).attr('y1', 64).attr('y2', 64)
	.attr('stroke', GRAY).attr('stroke-width', 2).attr('stroke-dasharray', '8,5');
svg.append('circle').attr('cx', 380).attr('cy', 90).attr('r', 3).attr('fill', PURPLE);
svg.append('circle').attr('cx', 380).attr('cy', 116).attr('r', 3).attr('fill', ORANGE);

svg.append('text')
	.attr('transform', 'translate(32,240) rotate(-90)')
	.attr('text-anchor', 'middle').attr('font-size', LABEL_SIZE)
	.style('white-space', 'pre')
	.text('Mean Measured Peak Flux   /   True Peak Flux');
svg.append('text')
	.attr('x', (boxL.left + boxL.right) / 2).attr('y', 479)
	.attr('text-anchor', 'middle').attr('font-size', LABEL_SIZE)
	.style('white-space', 'pre')
	.text('Signal Strength ( in units of \u03c3 above background )');

// ===== right panel: duration bias =====
var boxR = { left: 764, right: 1288, top: 15, bottom: 419 };
var xR = d3.scaleLog().domain([0.005, 2000]).range([boxR.left, boxR.right]);
var yR = d3.scaleLog().domain([0.5, 300]).range([boxR.bottom, boxR.top]);

scatter(lgrbs, xR, yR, RED, 2.1);
scatter(sgrbs, xR, yR, BLUE, 2.1);

svg.append('path')
	.datum(avgRatio)
	.attr('d', d3.line().x(function(d) { return xR(d[0]); }).y(function(d) { return yR(d[1]); }))
	.attr('fill', 'none').attr('stroke', LIME).attr('stroke-width', 5)
	.attr('stroke-linejoin', 'round').attr('stroke-linecap', 'round');

drawFrame(boxR, xR, yR, {
	xMajor: durTicksX,
	xMinor: xR.ticks().filter(function(v) { return durTicksX.indexOf(v) < 0; }),
	xFmt: function(v) { return String(v); },
	yMajor: durTicksY,
	yMinor: yR.ticks().filter(function(v) { return durTicksY.indexOf(v) < 0; }),
	yFmt: function(v) { return String(v); }
});

rightText(1262, 46, 'Systematic Bias in Duration Measurements', LEGEND_SIZE);
rightText(1262, 72, 'BATSE LGRBs', LEGEND_SIZE);
rightText(1262, 98, 'BATSE SGRBs', LEGEND_SIZE);
richText(rightText(1262, 123, '', LEGEND_SIZE), [['Average T', 0], ['90', 1], [' / T', 0], ['50', 1]], LEGEND_SIZE);
svg.append('circle').attr('cx', 1063).attr('cy', 66).attr('r', 3).attr('fill', RED);
svg.append('circle').attr('cx', 1063).attr('cy', 91).attr('r', 3).attr('fill', BLUE);
svg.append('line').attr('x1', 1040).attr('x2', 1088).attr('y1', 116.5).attr('y2', 116.5)
	.attr('stroke', LIME).attr('stroke-width', 5);

richText(svg.append('text')
	.attr('transform', 'translate(713,216) rotate(-90)')
	.attr('text-anchor', 'middle').attr('font-size', LABEL_SIZE)
	.style('white-space', 'pre'),
	[['T', 0], ['90', 1], ['  [ s ]  /  T', 0], ['50', 1], ['  [ s ]', 0]], LABEL_SIZE);

richText(svg.append('text')
	.attr('x', (boxR.left + boxR.right) / 2).attr('y', 476)
	.attr('text-anchor', 'middle').attr('font-size', LABEL_SIZE)
	.style('white-space', 'pre'),
	[['Observed Duration:  T', 0], ['50', 1], ['  [ s ]', 0]], LABEL_SIZE);
</script>
</body>
</html>
